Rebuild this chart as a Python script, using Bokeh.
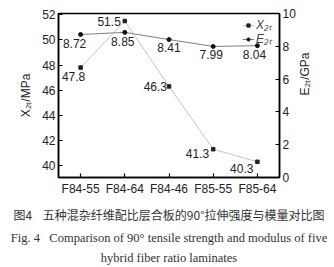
import math
from bokeh.plotting import figure
from bokeh.models import LinearAxis, Range1d, FactorRange, Legend, LegendItem, Title, ColumnDataSource
from bokeh.core.properties import value
from bokeh.embed import file_html
from bokeh.resources import INLINE

samples = ["F84-55", "F84-64", "F84-46", "F85-55", "F85-64"]
x2t = [47.8, 51.5, 46.3, 41.3, 40.3]
e2t = [8.72, 8.85, 8.41, 7.99, 8.04]
x2t_labels = ["47.8", "51.5", "46.3", "41.3", "40.3"]
e2t_labels = ["8.72", "8.85", "8.41", "7.99", "8.04"]
left_ticks = [40, 42, 44, 46, 48, 50, 52]
right_ticks = [0, 2, 4, 6, 8, 10]

FONT = "Liberation Sans"

p = figure(width=334, height=267, x_range=FactorRange(*samples),
           y_range=Range1d(39.05, 52.1), output_backend="svg",
           toolbar_location=None, title=None,
           min_border_left=58, min_border_right=55, min_border_top=13, min_border_bottom=10)
p.extra_y_ranges = {"e": Range1d(0, 10)}

p.xgrid.grid_line_color = None
p.ygrid.grid_line_color = None
p.outline_line_color = "black"
p.outline_line_width = 1.5
p.background_fill_color = "white"
p.border_fill_color = "white"

src = ColumnDataSource(dict(s=samples, x=x2t, e=e2t))

lx = p.line("s", "x", source=src, line_color="#c4c4c4", line_width=1)
mx = p.scatter("s", "x", source=src, marker="square", size=3.5, color="#222222")
le = p.line("s", "e", source=src, line_color="#808080", line_width=1, y_range_name="e")
me = p.scatter("s", "e", source=src, marker="circle", size=4, color="#111111", y_range_name="e")

# label nudges (screen px) for readability
x_xoff = [-7, -4, -2, -4, -4]
x_yoff = [9, 0, 0, 4, 7]
x_align = ["center", "right", "right", "right", "right"]
e_xoff = [-6, -2, 0, -2, -3]
e_yoff = [9, 9, 8, 8, 9]
src2 = ColumnDataSource(dict(s=samples, x=x2t, e=e2t, xl=x2t_labels, el=e2t_labels,
                             xo=x_xoff, yo=x_yoff, xa=x_align, eo=e_xoff, ey=e_yoff))
p.text("s", "x", text="xl", source=src2, x_offset="xo", y_offset="yo",
       text_align="xa", text_baseline="middle",
       text_font=value(FONT), text_font_size="12px", text_color="#222222")
p.text("s", "e", text="el", source=src2, x_offset="eo", y_offset="ey", y_range_name="e",
       text_align="center", text_baseline="middle",
       text_font=value(FONT), text_font_size="12px", text_color="#222222")

def style_axis(ax):
    ax.major_tick_in = 4
    ax.major_tick_out = 0
    ax.minor_tick_in = 0
    ax.minor_tick_out = 0
    ax.axis_line_color = "black"
    ax.axis_line_width = 1.5
    ax.major_tick_line_width = 1.2
    ax.major_label_text_font = FONT
    ax.major_label_text_font_size = "12px"
    ax.major_label_text_color = "#222222"
    ax.axis_label_text_font = FONT
    ax.axis_label_text_font_size = "12px"
    ax.axis_label_text_font_style = "normal"
    ax.axis_label_text_color = "#222222"

p.yaxis.ticker = left_ticks
p.yaxis.axis_label = "X\u2082\u209c/MPa"
style_axis(p.yaxis[0])
p.yaxis.major_label_standoff = 3
p.yaxis.axis_label_standoff = 6

style_axis(p.xaxis[0])
p.xaxis.major_label_standoff = 4

ra = LinearAxis(y_range_name="e", ticker=right_ticks, axis_label="E\u2082\u209c/GPa")
style_axis(ra)
ra.major_label_standoff = 3
ra.axis_label_standoff = 6
ra.axis_label_orientation = math.pi / 2
p.add_layout(ra, "right")

leg_kw = dict(border_line_color=None, background_fill_alpha=0, label_text_font=FONT,
              label_text_font_size="12px", label_text_font_style="italic",
              glyph_width=12, glyph_height=8, spacing=0, padding=0,
              label_standoff=2, label_height=8)
leg1 = Legend(items=[LegendItem(label="X\u2082\u209c", renderers=[lx, mx])],
              location="top_right", margin=3, **leg_kw)
leg2 = Legend(items=[LegendItem(label="E\u2082\u209c", renderers=[le, me])],
              location=(184, 130), margin=0, **leg_kw)
p.add_layout(leg1)
p.add_layout(leg2)

cap_color = "#333333"
NB = "\u00a0"
t1 = Title(text="图4" + NB * 4 + "五种混杂纤维配比层合板的90°拉伸强度与模量对比图", align="center",
           text_font="Noto Sans CJK SC", text_font_size="12px", text_font_style="normal",
           text_color=cap_color, standoff=10)
t2 = Title(text="Fig. 4" + NB * 3 + "Comparison of 90° tensile strength and modulus of five", align="center",
           text_font="Liberation Serif", text_font_size="12.5px", text_font_style="normal",
           text_color=cap_color, standoff=2)
t3 = Title(text="hybrid fiber ratio laminates", align="center",
           text_font="Liberation Serif", text_font_size="12.5px", text_font_style="normal",
           text_color=cap_color, standoff=6)
p.add_layout(t1, "below")
p.add_layout(t2, "below")
p.add_layout(t3, "below")

open("out.html", "w").write(file_html(p, INLINE))
